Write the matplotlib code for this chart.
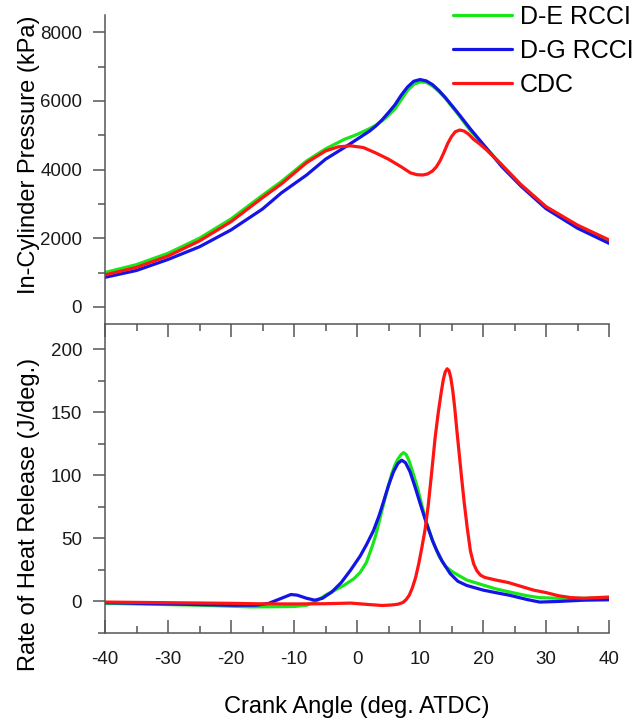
import matplotlib
matplotlib.use('Agg')
import matplotlib.pyplot as plt
from matplotlib.ticker import MultipleLocator

plt.rcParams['font.family'] = ['Liberation Sans', 'DejaVu Sans']
plt.rcParams['axes.unicode_minus'] = False

# in-cylinder pressure (kPa)
ca_rcci = [-40, -35, -30, -25, -20, -15, -12, -8, -5, -2, 0, 2, 3, 4, 5, 6, 7, 8, 9, 10, 11,
           12, 13, 14, 16, 18, 20, 23, 26, 30, 35, 40]
p_de = [1000, 1230, 1560, 2000, 2560, 3250, 3650, 4250, 4600, 4880, 5020, 5190, 5290, 5420,
        5580, 5760, 6030, 6300, 6480, 6550, 6540, 6430, 6270, 6080, 5620, 5130, 4720, 4130,
        3560, 2900, 2330, 1900]
p_dg = [860, 1060, 1380, 1750, 2240, 2850, 3320, 3840, 4300, 4640, 4880, 5120, 5270, 5450,
        5660, 5880, 6160, 6400, 6570, 6620, 6580, 6470, 6300, 6100, 5650, 5180, 4740, 4080,
        3520, 2860, 2290, 1850]
ca_cdc = [-40, -35, -30, -25, -20, -15, -12, -8, -5, -3, -1, 1, 3, 5, 7, 8.5, 9.5, 10.4,
          11.2, 12, 12.6, 13.2, 13.8, 14.4, 15, 15.6, 16.3, 17, 17.7, 18.5, 19.5, 20.5, 23,
          26, 30, 35, 40]
p_cdc = [930, 1150, 1480, 1920, 2480, 3180, 3580, 4200, 4540, 4660, 4690, 4640, 4480, 4300,
         4080, 3900, 3850, 3840, 3870, 3960, 4080, 4260, 4500, 4760, 4960, 5100, 5150, 5120,
         5030, 4880, 4740, 4580, 4130, 3560, 2920, 2380, 1950]

# rate of heat release (J/deg.)
ca_hr_de = [-40, -30, -25, -20, -17, -13, -10, -8, -6.5, -5, -3.5, -2, -0.5, 0.5, 1.5, 2.0,
            2.5, 3.0, 3.5, 4.0, 4.5, 5.0, 5.5, 6.0, 6.5, 7.0, 7.4, 7.8, 8.3, 9.0, 9.6, 10.3,
            11, 12, 13, 14, 15, 16, 17.4, 20, 22, 24.3, 27, 29, 32, 36, 40]
hr_de = [-1.5, -2.5, -3, -3.8, -4.3, -4.2, -4, -3, 0, 5, 9, 13, 18, 23, 31, 38,
         45, 53, 63, 73, 83, 92, 101, 108, 113, 116.5, 118, 116.5, 111, 100, 90, 76,
         63, 48, 36, 28, 24, 21, 17, 13, 10, 7.4, 4.5, 3, 2.5, 2.5, 3]
ca_hr_dg = [-40, -30, -20, -16, -14, -12, -10.5, -9.5, -8, -6.7, -5.5, -4, -2.5, -1, 0.5,
            1.5, 2.6, 3.5, 4.2, 5.0, 5.8, 6.5, 7.1, 7.7, 8.4, 9.2, 10, 10.95, 12, 12.6, 13.5,
            14.8, 16, 17.4, 20, 22, 24.3, 27, 29, 32, 36, 40]
hr_dg = [-1, -2, -3, -3, -1.5, 2.5, 5.5, 5, 2.5, 1, 2.5, 7.5, 15, 25, 36,
         45, 56, 68, 79, 92, 103, 109.5, 112, 110, 103, 91, 78, 63, 48, 41, 32,
         22, 16, 12.7, 9, 7, 4.8, 1.5, -0.5, 0, 1, 1.3]
ca_hr_cdc = [-40, -30, -20, -15, -10, -5, -1, 2, 4, 5.5, 6.5, 7.3, 7.8, 8.3, 8.8, 9.3, 9.8,
             10.3, 10.8, 11.3, 11.8, 12.4, 12.9, 13.4, 13.7, 14.0, 14.3, 14.6, 14.9, 15.2,
             15.5, 15.8, 16.2, 16.6, 17.0, 17.5, 18.0, 18.5, 19.0, 19.6, 20.3, 22, 24, 26,
             28, 30, 32, 34, 36, 40]
hr_cdc = [-0.5, -1, -1.5, -1.9, -2, -1.8, -1.3, -2.5, -3.2, -2.8, -2.2, -0.8, 1.5, 5, 11,
          19, 30, 43, 57, 76, 100, 130, 150, 167, 176, 182, 184.5, 183, 177, 167,
          154, 138, 118, 98, 79, 58, 40, 30, 24.5, 20.8, 19, 17, 15, 12,
          9, 7, 4.5, 3, 2.5, 3.5]

labels = ['D-E RCCI', 'D-G RCCI', 'CDC']
colors = ['#19e619', '#1414e6', '#ff1414']
spine_col = '#555555'

fig = plt.figure(figsize=(6.38, 7.21), dpi=100)
ax1 = fig.add_axes([0.1646, 0.5506, 0.79, 0.4286])
ax2 = fig.add_axes([0.1646, 0.1221, 0.79, 0.4285])

style = dict(lw=2.3, solid_joinstyle='round', solid_capstyle='round')
ax1.plot(ca_rcci, p_de, color=colors[0], label=labels[0], **style)
ax1.plot(ca_rcci, p_dg, color=colors[1], label=labels[1], **style)
ax1.plot(ca_cdc, p_cdc, color=colors[2], label=labels[2], **style)

ax2.plot(ca_hr_de, hr_de, color=colors[0], **style)
ax2.plot(ca_hr_dg, hr_dg, color=colors[1], **style)
ax2.plot(ca_hr_cdc, hr_cdc, color=colors[2], **style)

for ax in (ax1, ax2):
    ax.set_xlim(-40, 40)
    ax.spines['right'].set_visible(False)
    for s in ax.spines.values():
        s.set_color(spine_col)
        s.set_linewidth(1.1)
    ax.tick_params(axis='y', which='major', direction='out', length=8.5, width=1.1,
                   color=spine_col, labelsize=13.5, pad=8, labelcolor='#1a1a1a')
    ax.tick_params(axis='y', which='minor', direction='out', length=5, width=1.1,
                   color=spine_col)

ax1.set_ylim(-500, 8500)
ax1.yaxis.set_major_locator(MultipleLocator(2000))
ax1.yaxis.set_minor_locator(MultipleLocator(1000))
ax1.spines['top'].set_visible(False)
ax1.spines['bottom'].set_visible(False)
ax1.tick_params(axis='x', which='both', bottom=False, labelbottom=False)

ax2.set_ylim(-25, 220)
ax2.yaxis.set_major_locator(MultipleLocator(50))
ax2.yaxis.set_minor_locator(MultipleLocator(25))
ax2.xaxis.set_major_locator(MultipleLocator(10))
ax2.xaxis.set_minor_locator(MultipleLocator(5))
ax2.tick_params(axis='x', which='major', direction='in', top=True, length=9.4, width=1.1,
                color=spine_col, labelsize=13.5, pad=13, labelcolor='#1a1a1a')
ax2.tick_params(axis='x', which='minor', direction='in', top=True, length=5, width=1.1,
                color=spine_col)

ax1.set_ylabel('In-Cylinder Pressure (kPa)', fontsize=17, va='baseline')
ax1.yaxis.set_label_coords(-0.139, 0.547)
ax2.set_ylabel('Rate of Heat Release (J/deg.)', fontsize=17, va='baseline')
ax2.yaxis.set_label_coords(-0.139, 0.385)
ax2.set_xlabel('Crank Angle (deg. ATDC)', fontsize=17, va='baseline')
ax2.xaxis.set_label_coords(0.5, -0.259)

ax1.legend(loc='upper left', bbox_to_anchor=(453 / 638, 1 - 5 / 721),
           bbox_transform=fig.transFigure, frameon=False, fontsize=18,
           handlelength=2.35, handletextpad=0.32, labelspacing=0.4,
           borderpad=0, borderaxespad=0)

fig.savefig('out.png', dpi=100)
